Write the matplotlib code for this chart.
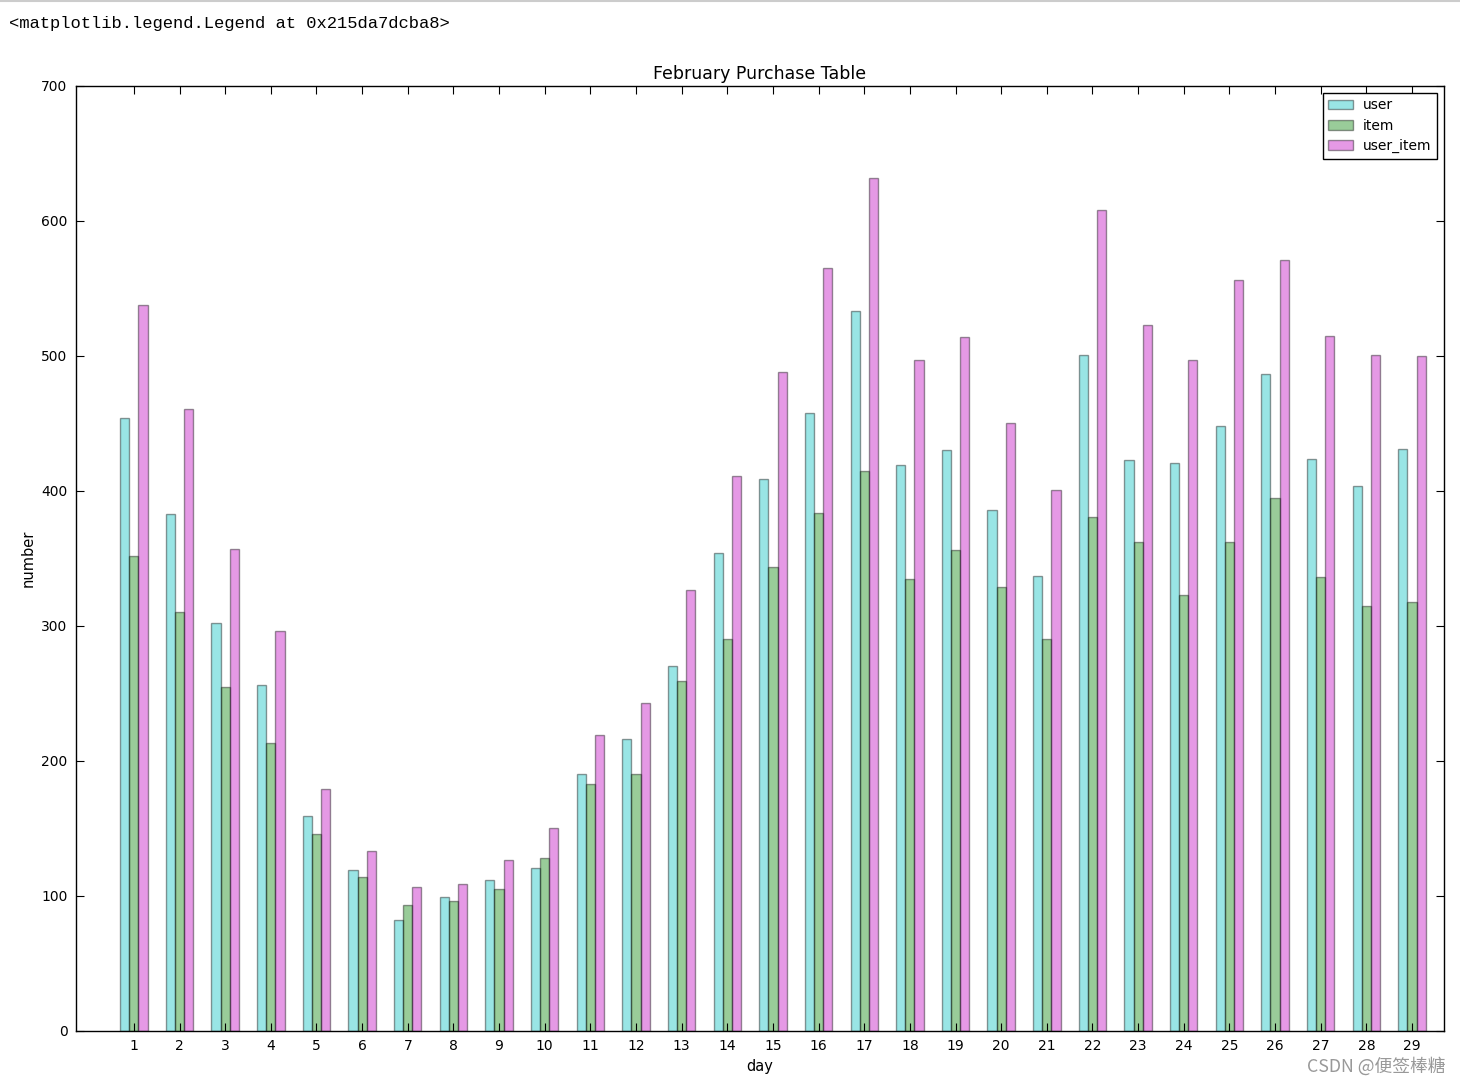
import numpy as np
import matplotlib
matplotlib.use('Agg')
import matplotlib.pyplot as plt

# 二月每日购买数据
days = list(range(1, 30))
user = [454, 383, 302, 256, 159, 119, 82, 99, 112, 121, 190, 216, 270, 354, 409,
        458, 533, 419, 430, 386, 337, 501, 423, 421, 448, 487, 424, 404, 431]
item = [352, 310, 255, 213, 146, 114, 93, 96, 105, 128, 183, 190, 259, 290, 344,
        384, 415, 335, 356, 329, 290, 381, 362, 323, 362, 395, 336, 315, 318]
user_item = [538, 461, 357, 296, 179, 133, 107, 109, 127, 150, 219, 243, 327, 411, 488,
             565, 632, 497, 514, 450, 401, 608, 523, 497, 556, 571, 515, 501, 500]

fig = plt.figure(figsize=(14.6, 10.84), dpi=100)
fig.patch.set_facecolor('white')
ax = fig.add_axes([0.052, 0.0489, 0.937, 0.8718])

x = np.arange(len(days))
w = 0.2
ax.bar(x - w, user, w, color=(0, 0.75, 0.75), alpha=0.4, edgecolor='black', linewidth=1, label='user')
ax.bar(x, item, w, color=(0, 0.5, 0), alpha=0.4, edgecolor='black', linewidth=1, label='item')
ax.bar(x + w, user_item, w, color=(0.75, 0, 0.75), alpha=0.4, edgecolor='black', linewidth=1, label='user_item')

ax.set_xlim(-1.27, 28.7)
ax.set_ylim(0, 700)
ax.set_xticks(x)
ax.set_xticklabels([str(d) for d in days])
ax.set_yticks(range(0, 701, 100))
ax.tick_params(direction='in', top=True, right=True, length=6, labelsize=10, pad=6)
for s in ax.spines.values():
    s.set_linewidth(1)

ax.set_title('February Purchase Table', fontsize=12.5, pad=5)
ax.set_xlabel('day', fontsize=10.5, labelpad=4)
ax.set_ylabel('number', fontsize=10.5, labelpad=4)

leg = ax.legend(loc='upper right', fontsize=10, fancybox=False, framealpha=1,
                edgecolor='black', borderaxespad=0.5, handlelength=1.8,
                handletextpad=0.7, labelspacing=0.45)
leg.get_frame().set_linewidth(1)

# Jupyter 输出行和水印
fig.text(0.006, 0.978, '<matplotlib.legend.Legend at 0x215da7dcba8>',
         family='Liberation Mono', fontsize=12.3, va='center', ha='left')
fig.add_artist(plt.Line2D([0, 1], [0.999, 0.999], color='#cccccc', linewidth=1.5))
fig.text(0.99, 0.016, 'CSDN @便签棒糖', family=['Noto Sans CJK SC', 'DejaVu Sans'],
         fontsize=12.8, color='#999999', ha='right', va='center')

fig.savefig('out.png', dpi=100, facecolor='white')
